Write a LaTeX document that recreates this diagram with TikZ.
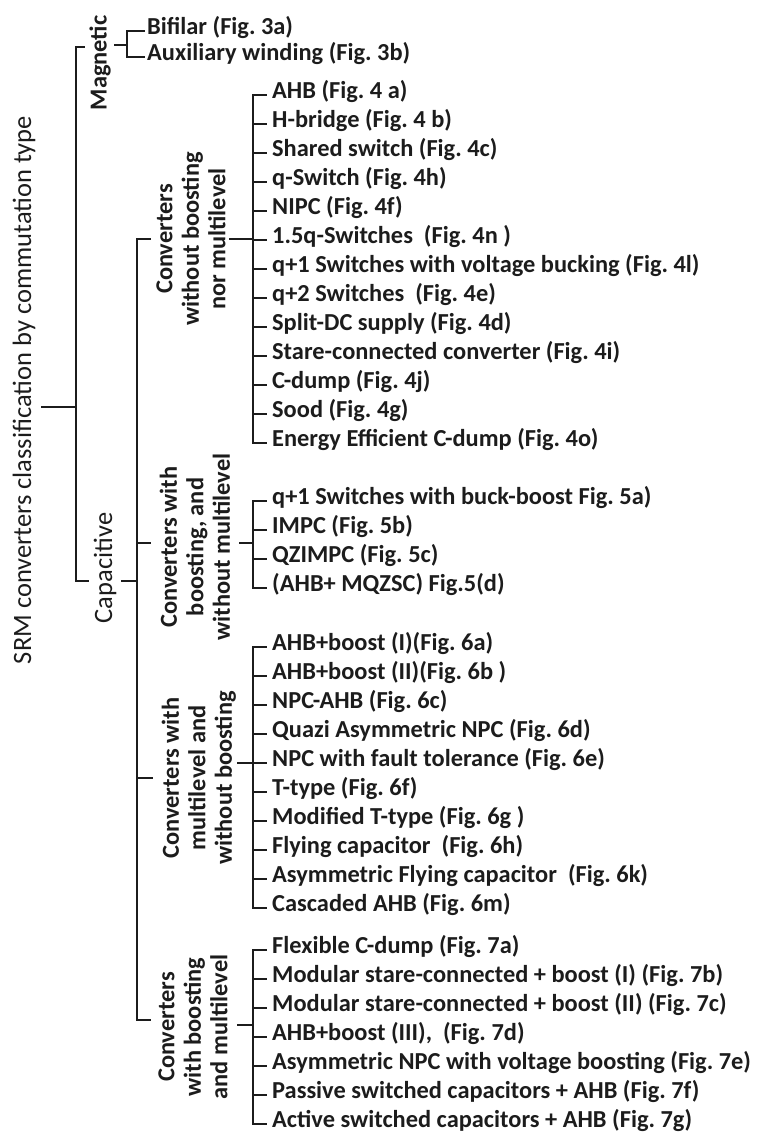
\documentclass[tikz,border=0pt]{standalone}
\usepackage{fontspec}
\setmainfont{Carlito}
\definecolor{ink}{RGB}{28,28,28}
\begin{document}
\begin{tikzpicture}[x=1pt,y=-1pt,
  wire/.style={draw=ink, line width=2.6pt, line cap=rect, line join=miter},
  item/.style={anchor=west, inner xsep=6pt, inner ysep=0pt, text height=0.64em, text depth=0pt,
    text=ink, font=\fontsize{24.4}{28}\selectfont\bfseries\frenchspacing},
  magitem/.style={item, inner xsep=3pt},
  vlabel/.style={rotate=90, align=center, inner sep=0pt, text=ink,
    font=\fontsize{24.4}{26.5}\selectfont\bfseries\frenchspacing},
  plainlabel/.style={rotate=90, inner sep=0pt, text=ink,
    font=\fontsize{26.5}{30}\selectfont\frenchspacing},
]
\useasboundingbox (0,0) rectangle (756,1137);

% ---------- root ----------
\node[plainlabel] (root) at (24,390)
  {SRM converters classification by commutation type};
\coordinate (rootr) at (42,407);
\coordinate (rootbar) at (76,407);
\coordinate (rootTop) at (76,47);
\coordinate (rootBot) at (76,581);
\coordinate (magl) at (84,47);
\coordinate (capl) at (88,581);
\draw[wire] (rootr) -- (rootbar);
\draw[wire] (magl) -- (rootTop) -- (rootBot) -- (capl);

% ---------- magnetic ----------
\node[vlabel] (mag) at (100,63) {Magnetic};
\coordinate (magr) at (115,45);
\coordinate (magbar) at (127,45);
\node[magitem] (m1) at (144,31) {Bifilar (Fig. 3a)};
\node[magitem] (m2) at (144,57) {Auxiliary winding (Fig. 3b)};
\draw[wire] (magr) -- (magbar);
\draw[wire] (m1.west) -- (m1.west -| magbar) -- (m2.west -| magbar) -- (m2.west);

% ---------- capacitive ----------
\node[plainlabel] (cap) at (105,568) {Capacitive};
\coordinate (capr) at (122,581);
\coordinate (capbar) at (137,581);
\draw[wire] (capr) -- (capbar);
\coordinate (capTop) at (137,239);
\coordinate (capG2) at (137,543);
\coordinate (capG3) at (137,778);
\coordinate (capBot) at (137,1020);
\coordinate (g1l) at (150,239);
\coordinate (g2l) at (150,543);
\coordinate (g3l) at (152,778);
\coordinate (g4l) at (150,1020);
\draw[wire] (g1l) -- (capTop) -- (capBot) -- (g4l);
\draw[wire] (capG2) -- (g2l);
\draw[wire] (capG3) -- (g3l);

% ---------- group labels ----------
\node[vlabel] (g1) at (191,239) {Converters\\without boosting\\nor multilevel};
\node[vlabel] (g2) at (195,547) {Converters with\\boosting, and\\without multilevel};
\node[vlabel] (g3) at (199,778) {Converters with\\multilevel and\\without boosting};
\node[vlabel] (g4) at (193,1027) {Converters\\with boosting\\and multilevel};
\coordinate (g1r) at (230,239);
\coordinate (g2r) at (240,543);
\coordinate (g3r) at (238,763);
\coordinate (g4r) at (238,1025);
\coordinate (bx) at (253,0);

% ---------- group 1 ----------
\foreach \t [count=\i] in {
  {AHB (Fig. 4 a)}, {H-bridge (Fig. 4 b)}, {Shared switch (Fig. 4c)},
  {q-Switch (Fig. 4h)}, {NIPC (Fig. 4f)}, {1.5q-Switches~~(Fig. 4n )},
  {q+1 Switches with voltage bucking (Fig. 4l)}, {q+2 Switches~~(Fig. 4e)},
  {Split-DC supply (Fig. 4d)}, {Stare-connected converter (Fig. 4i)},
  {C-dump (Fig. 4j)}, {Sood (Fig. 4g)}, {Energy Efficient C-dump (Fig. 4o)}}
  \node[item] (a\i) at (266,{95+29*(\i-1)}) {\t};
\draw[wire] (a1.west) -- (a1.west -| bx) -- (a13.west -| bx) -- (a13.west);
\foreach \i in {2,...,12} \draw[wire] (a\i.west -| bx) -- (a\i.west);
\draw[wire] (g1r) -- (g1r -| bx);

% ---------- group 2 ----------
\foreach \t [count=\i] in {
  {q+1 Switches with buck-boost Fig. 5a)}, {IMPC (Fig. 5b)},
  {QZIMPC (Fig. 5c)}, {(AHB+ MQZSC) Fig.5(d)}}
  \node[item] (b\i) at (266,{501+29*(\i-1)}) {\t};
\draw[wire] (b1.west) -- (b1.west -| bx) -- (b4.west -| bx) -- (b4.west);
\foreach \i in {2,3} \draw[wire] (b\i.west -| bx) -- (b\i.west);
\draw[wire] (g2r) -- (g2r -| bx);

% ---------- group 3 ----------
\foreach \t [count=\i] in {
  {AHB+boost (I)(Fig. 6a)}, {AHB+boost (II)(Fig. 6b )}, {NPC-AHB (Fig. 6c)},
  {Quazi Asymmetric NPC (Fig. 6d)}, {NPC with fault tolerance (Fig. 6e)},
  {T-type (Fig. 6f)}, {Modified T-type (Fig. 6g )}, {Flying capacitor~~(Fig. 6h)},
  {Asymmetric Flying capacitor~~(Fig. 6k)}, {Cascaded AHB (Fig. 6m)}}
  \node[item] (c\i) at (266,{647+29*(\i-1)}) {\t};
\draw[wire] (c1.west) -- (c1.west -| bx) -- (c10.west -| bx) -- (c10.west);
\foreach \i in {2,...,9} \draw[wire] (c\i.west -| bx) -- (c\i.west);
\draw[wire] (g3r) -- (g3r -| bx);

% ---------- group 4 ----------
\foreach \t [count=\i] in {
  {Flexible C-dump (Fig. 7a)}, {Modular stare-connected + boost (I) (Fig. 7b)},
  {Modular stare-connected + boost (II) (Fig. 7c)}, {AHB+boost (III),~~(Fig. 7d)},
  {Asymmetric NPC with voltage boosting (Fig. 7e)},
  {Passive switched capacitors + AHB (Fig. 7f)},
  {Active switched capacitors + AHB (Fig. 7g)}}
  \node[item] (d\i) at (266,{950+29*(\i-1)}) {\t};
\draw[wire] (d1.west) -- (d1.west -| bx) -- (d7.west -| bx) -- (d7.west);
\foreach \i in {2,...,6} \draw[wire] (d\i.west -| bx) -- (d\i.west);
\draw[wire] (g4r) -- (g4r -| bx);
\end{tikzpicture}
\end{document}
